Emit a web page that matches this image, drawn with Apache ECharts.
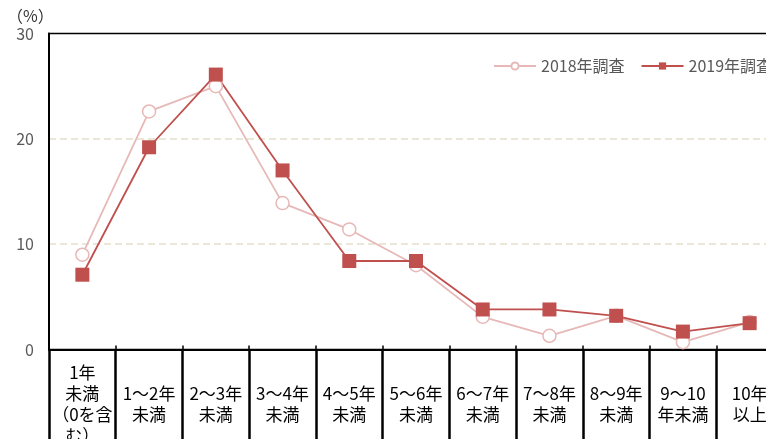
<!DOCTYPE html>
<html><head><meta charset="utf-8">
<script src="https://cdn.jsdelivr.net/npm/echarts@6/dist/echarts.min.js"></script>
<style>html,body{margin:0;padding:0;background:#fff;overflow:hidden;width:766px;height:439px}#c{width:800px;height:439px}</style>
</head><body><div id="c"></div>
<script>
const categories = ['1年\n未満\n（0を含\nむ）','1～2年\n未満','2～3年\n未満','3～4年\n未満','4～5年\n未満','5～6年\n未満','6～7年\n未満','7～8年\n未満','8～9年\n未満','9～10\n年未満','10年\n以上'];
const series2018 = [9.0, 22.6, 25.0, 13.9, 11.4, 8.0, 3.1, 1.3, 3.2, 0.7, 2.6];
const series2019 = [7.1, 19.2, 26.1, 17.0, 8.4, 8.4, 3.8, 3.8, 3.2, 1.7, 2.5];
const yTicks = [0, 10, 20, 30];
const names = ['2018年調査', '2019年調査'];

const FONT = '"Noto Sans CJK JP", "Noto Sans", sans-serif';
const GRID_H = 316;
const chart = echarts.init(document.getElementById('c'), null, {renderer: 'canvas'});
chart.setOption({
  animation: false,
  backgroundColor: '#fff',
  textStyle: {fontFamily: FONT},
  title: {text: '（%）', left: 2, top: 3, textStyle: {fontSize: 16, fontWeight: 'normal', color: '#333', fontFamily: FONT}},
  legend: {
    orient: 'horizontal',
    left: 488, top: 53, itemWidth: 42, itemHeight: 9, itemGap: 16,
    textStyle: {fontSize: 16, color: '#595959', fontFamily: FONT},
    data: names
  },
  grid: {left: 49, top: 33.5, width: 734, height: GRID_H, show: true, borderColor: '#000', borderWidth: 1.5,
         containLabel: false, outerBoundsMode: 'none'},
  xAxis: [{
    type: 'category', data: categories, boundaryGap: true, position: 'bottom',
    axisLine: {show: true, lineStyle: {color: '#000', width: 2}},
    axisTick: {show: true, interval: 0, inside: false, length: 95, lineStyle: {color: '#000', width: 2.5}},
    axisLabel: {interval: 0, margin: 55, verticalAlign: 'middle', fontSize: 17, lineHeight: 21, color: '#000', fontFamily: FONT}
  }, {
    type: 'category', data: categories, boundaryGap: true, position: 'top', offset: -GRID_H,
    axisLine: {show: false},
    axisTick: {show: true, interval: 0, inside: false, length: 4, lineStyle: {color: '#000', width: 1.5}},
    axisLabel: {show: false}
  }],
  yAxis: {
    type: 'value', min: yTicks[0], max: yTicks[yTicks.length - 1], interval: 10,
    axisLine: {show: true, lineStyle: {color: '#000', width: 2}},
    axisTick: {show: false},
    axisLabel: {margin: 15, fontSize: 16, color: '#595959', fontFamily: FONT},
    splitLine: {showMaxLine: false, lineStyle: {color: '#EAE7D9', width: 2, type: [7, 4]}}
  },
  series: [{
    name: names[0], type: 'line', data: series2018, xAxisIndex: 0,
    symbol: 'circle', symbolSize: 13,
    lineStyle: {color: '#E6B9B8', width: 1.8},
    itemStyle: {color: '#fff', borderColor: '#E6B9B8', borderWidth: 1.5}
  }, {
    name: names[1], type: 'line', data: series2019, xAxisIndex: 1,
    symbol: 'rect', symbolSize: 14,
    lineStyle: {color: '#C0504D', width: 1.8},
    itemStyle: {color: '#C0504D', borderColor: '#C0504D', borderWidth: 0}
  }]
});
</script></body></html>
